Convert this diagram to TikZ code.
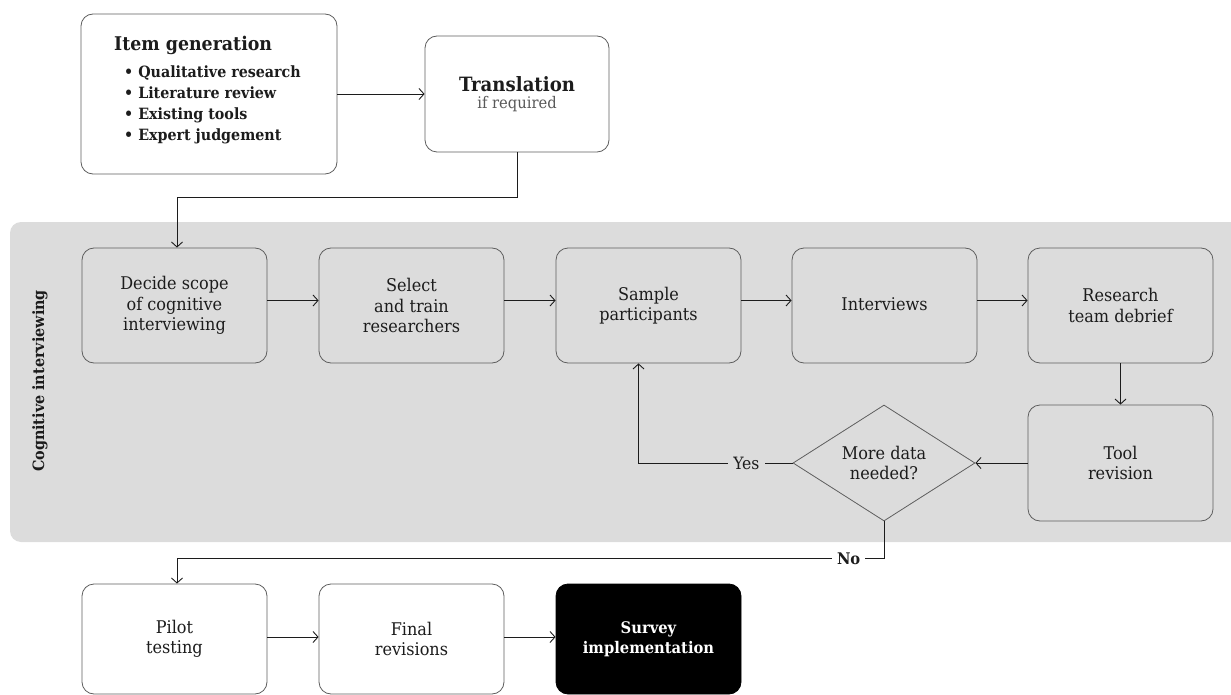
\documentclass[tikz,border=0pt]{standalone}
\usepackage{fontspec}
\setmainfont[FakeStretch=0.92]{DejaVu Serif}
\usetikzlibrary{arrows.meta,shapes.geometric}
\definecolor{band}{HTML}{DCDCDC}
\definecolor{edge}{HTML}{5E5E5E}
\definecolor{ink}{HTML}{1C1C1C}
\begin{document}
\begin{tikzpicture}[x=1pt,y=-1pt,
  box/.style={draw=edge, line width=0.8pt, rounded corners=12pt, minimum width=185pt,
    minimum height=115pt, align=center, inner sep=0pt, text=ink,
    font=\fontsize{17.5}{20.5}\selectfont},
  arr/.style={draw=ink, line width=0.9pt, -{Straight Barb[length=5pt,width=11pt]}},
  lbl/.style={font=\fontsize{17}{18}\selectfont, text=ink, inner sep=5pt}]
\useasboundingbox (0,0) rectangle (1231,695);
\begin{scope}
\clip (0,0) rectangle (1231,695);
\fill[band, rounded corners=11pt] (10,222) rectangle (1260,542);
\end{scope}
% top
\node[box, minimum width=256pt, minimum height=160pt, fill=white] (itemgen) at (209,94) {};
\node[anchor=west, inner sep=0pt, text=ink, font=\fontsize{18.9}{24}\selectfont\bfseries] (itemtitle) at (114,45) {Item generation};
\node[anchor=north west, align=left, inner sep=0pt, text=ink, font=\fontsize{15.5}{20.7}\selectfont\bfseries] (itembullets) at (124,66) {• Qualitative research\\• Literature review\\• Existing tools\\• Expert judgement};
\node[box, minimum width=184pt, minimum height=116pt, fill=white] (trans) at (517,94)
  {{\fontsize{19.7}{24}\selectfont\bfseries Translation}\\[-3pt]{\fontsize{16}{18}\selectfont\color{black!65}if required}};
% band row
\node[box, fill=band] (decide) at (174.5,305.5) {Decide scope\\of cognitive\\interviewing};
\node[box, fill=band] (select) at (411.5,305.5) {Select\\and train\\researchers};
\node[box, fill=band] (sample) at (648.5,305.5) {Sample\\participants};
\node[box, fill=band] (interv) at (884.5,305.5) {\raisebox{3pt}{Interviews}};
\node[box, fill=band] (research) at (1120.5,305.5) {Research\\team debrief};
\node[box, fill=band, minimum height=116pt] (tool) at (1120.5,463) {Tool\\revision};
\node[diamond, draw=edge, line width=0.8pt, fill=band, aspect=1.57, minimum width=182pt,
  minimum height=116pt, inner sep=0pt, align=center, text=ink,
  font=\fontsize{17.5}{20.5}\selectfont] (dia) at (884,463) {More data\\needed?};
\node[rotate=90, inner sep=0pt, text=ink, font=\fontsize{15.6}{20}\selectfont\bfseries] (cilabel) at (40,381) {Cognitive interviewing};
% bottom row
\node[box, fill=white, minimum height=110pt] (pilot) at (174.5,639) {Pilot\\testing};
\node[box, fill=white, minimum height=110pt] (final) at (411.5,639) {Final\\revisions};
\node[box, fill=black, draw=black, text=white, minimum height=110pt, font=\fontsize{16}{20.5}\selectfont\bfseries] (survey) at (648.5,639) {Survey\\implementation};
% connectors
\draw[arr] (itemgen.east) -- (trans.west);
\draw[arr] (trans.south) -- ++(0,45) -| ([xshift=2.5pt]decide.north);
\draw[arr] ([yshift=5pt]decide.east) -- ([yshift=5pt]select.west);
\draw[arr] ([yshift=5pt]select.east) -- ([yshift=5pt]sample.west);
\draw[arr] ([yshift=5pt]sample.east) -- ([yshift=5pt]interv.west);
\draw[arr] ([yshift=5pt]interv.east) -- ([yshift=5pt]research.west);
\draw[arr] (research.south) -- (tool.north);
\draw[arr] (tool.west) -- (dia.east);
\coordinate (yesend) at ([xshift=-10pt]sample.south);
\draw[arr] (dia.west) -- node[lbl, pos=0.3, fill=band] (yes) {Yes} (dia.west -| yesend) -- (yesend);
\coordinate (nocorner) at ([yshift=-37pt]dia.south);
\coordinate (pilottop) at ([xshift=2.5pt]pilot.north);
\draw[arr] (dia.south) -- (nocorner) -- node[lbl, pos=0.05, fill=white, font=\fontsize{16}{18}\selectfont\bfseries] (no) {No} (nocorner -| pilottop) -- (pilottop);
\draw[arr] ([yshift=2pt]pilot.east) -- ([yshift=2pt]final.west);
\draw[arr] ([yshift=2pt]final.east) -- ([yshift=2pt]survey.west);
\end{tikzpicture}
\end{document}
